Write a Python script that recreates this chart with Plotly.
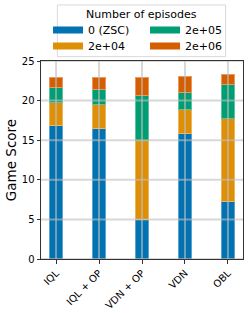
import plotly.graph_objects as go

categories = ["IQL", "IQL + OP", "VDN + OP", "VDN", "OBL"]
series_names = ["0 (ZSC)", "2e+04", "2e+05", "2e+06"]
zsc = [16.9, 16.5, 5.0, 15.9, 7.3]
ep_2e04 = [2.8, 2.95, 10.0, 3.0, 10.5]
ep_2e05 = [2.0, 1.9, 5.7, 2.15, 4.25]
ep_2e06 = [1.2, 1.55, 2.25, 2.05, 1.2]
y_ticks = [0, 5, 10, 15, 20, 25]

colors = ["#0173b2", "#de8f05", "#029e73", "#d55e00"]
edge_colors = ["#5ea3d0", "#ecb660", "#5cc2a4", "#e69a62"]
legend_rows = ["legend", "legend2", "legend", "legend2"]
series = [zsc, ep_2e04, ep_2e05, ep_2e06]

FONT = "DejaVu Sans"
fig = go.Figure()
for name, vals, c, ec in zip(series_names, series, colors, edge_colors):
    fig.add_trace(go.Bar(
        x=categories, y=vals, name=name, width=0.3,
        marker=dict(color=c, line=dict(color=ec, width=1)),
        showlegend=False,
    ))
for name, c, lg in zip(series_names, colors, legend_rows):
    fig.add_trace(go.Scatter(
        x=[None], y=[None], mode="lines", name=name,
        line=dict(color=c, width=7), legend=lg,
    ))

grid_color = "rgba(190,190,190,0.6)"
for i in range(len(categories)):
    fig.add_shape(type="line", xref="x", yref="paper", x0=i, x1=i, y0=0, y1=1,
                  line=dict(color=grid_color, width=2), layer="above")
for t in y_ticks:
    fig.add_shape(type="line", xref="paper", yref="y", x0=0, x1=1, y0=t, y1=t,
                  line=dict(color=grid_color, width=2), layer="above")

# legend frame and title
fig.add_shape(type="rect", xref="paper", yref="paper",
              x0=0.081, x1=0.914, y0=1.022, y1=1.283,
              line=dict(color="#d9d9d9", width=1), fillcolor="white", layer="above")
fig.add_annotation(text="Number of episodes", xref="paper", yref="paper",
                   x=0.498, y=1.237, xanchor="center", yanchor="middle",
                   showarrow=False, font=dict(size=11))

leg_common = dict(
    orientation="h", x=0.515, xanchor="center", yanchor="middle",
    font=dict(size=11, family=FONT), borderwidth=0,
    bgcolor="rgba(0,0,0,0)", entrywidth=52, itemwidth=30,
    traceorder="normal", tracegroupgap=0,
)

fig.update_layout(
    width=249, height=313,
    margin=dict(l=41, r=6, t=61, b=54),
    barmode="stack",
    plot_bgcolor="white", paper_bgcolor="white",
    font=dict(family=FONT, size=10, color="black"),
    legend=dict(y=1.1566, **leg_common),
    legend2=dict(y=1.0758, **leg_common),
    xaxis=dict(
        range=[-0.35, 4.35], tickangle=-45, showgrid=False, automargin=False,
        showline=True, linecolor="#333333", linewidth=1, mirror=True,
        ticks="outside", ticklen=3.5, tickcolor="#333333",
        tickfont=dict(size=10),
    ),
    yaxis=dict(
        range=[0, 25], tickvals=y_ticks, showgrid=False, zeroline=False,
        automargin=False,
        showline=True, linecolor="#333333", linewidth=1, mirror=True,
        ticks="outside", ticklen=3.5, tickcolor="#333333",
        tickfont=dict(size=10),
        title=dict(text="Game Score", font=dict(size=13.5), standoff=2),
    ),
)
fig.write_html("out.html", config={"displayModeBar": False},
               post_script="document.body.style.margin='0';")
